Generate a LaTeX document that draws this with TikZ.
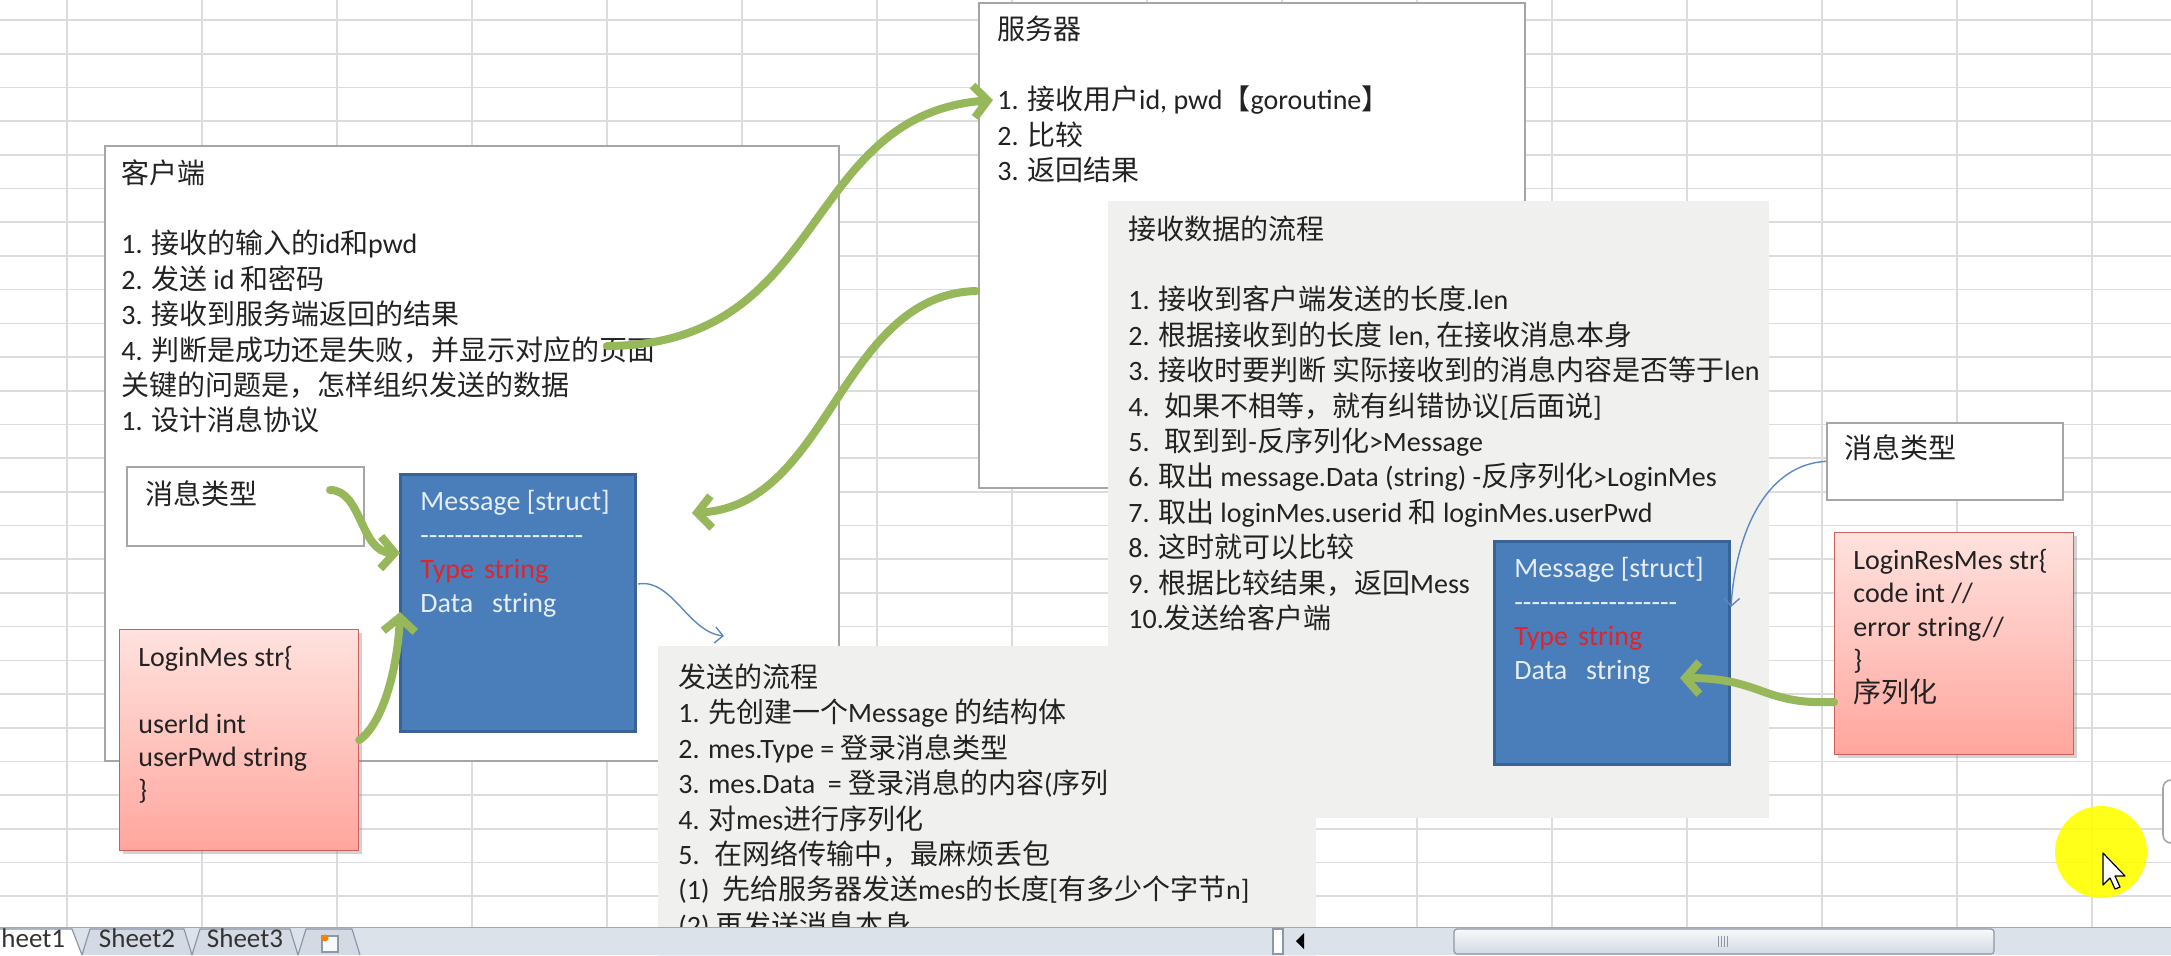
\documentclass[tikz,border=0pt]{standalone}
\usepackage{fontspec}
\setmainfont{Carlito}
\newfontfamily\cjkfont{Noto Sans CJK SC}
\usetikzlibrary{arrows.meta,positioning,shadows}

% CJK runs switch to the CJK font on their own
\XeTeXinterchartokenstate=1
\newXeTeXintercharclass\cjkclass
\newcount\cjkcode
\newcommand\cjkrange[2]{%
  \cjkcode=#1
  \loop\XeTeXcharclass\cjkcode=\cjkclass
    \ifnum\cjkcode<#2 \advance\cjkcode by 1 \repeat}
\cjkrange{"3000}{"303F}
\cjkrange{"4E00}{"9FFF}
\cjkrange{"FF00}{"FFEF}
\XeTeXinterchartoks 0 \cjkclass = {\cjkfont}
\XeTeXinterchartoks 4095 \cjkclass = {\cjkfont}
\XeTeXinterchartoks \cjkclass 0 = {\rmfamily}
\XeTeXinterchartoks \cjkclass 4095 = {\rmfamily}

\definecolor{gridgray}{HTML}{DADCDE}
\definecolor{boxline}{HTML}{A6A6A6}
\definecolor{panelgray}{HTML}{F0F0EE}
\definecolor{structblue}{HTML}{4A7EBB}
\definecolor{structedge}{HTML}{3A6395}
\definecolor{structink}{HTML}{E6EDF7}
\definecolor{fieldred}{HTML}{E0242C}
\definecolor{pinktop}{HTML}{FFE2DE}
\definecolor{pinkbot}{HTML}{FFA69E}
\definecolor{pinkedge}{HTML}{CF5F5A}
\definecolor{arrowgreen}{HTML}{96B85A}
\definecolor{linkblue}{HTML}{5B87C2}
\definecolor{textdark}{HTML}{222222}
\definecolor{barfill}{HTML}{DCE2EA}
\definecolor{baredge}{HTML}{9EA9B6}
\definecolor{tabfill}{HTML}{D3DAE3}
\definecolor{tabedge}{HTML}{8C98A8}
\definecolor{tabink}{HTML}{333333}
\definecolor{thumbtop}{HTML}{F7F9FB}
\definecolor{thumbbot}{HTML}{D2D9E2}
\definecolor{glowyellow}{HTML}{FFFF00}

\newcommand\boxstrut{\rule{0pt}{15pt}}
\newcommand\dashrow{\foreach\dashi in {1,...,19}{-}}

\tikzset{
	cellbox/.style={rectangle, anchor=north west, draw=boxline, line width=0.8pt, fill=white, inner sep=0pt},
	panelbox/.style={rectangle, anchor=north west, fill=panelgray, inner sep=0pt},
	structbox/.style={rectangle, anchor=north west, draw=structedge, line width=1.5pt, fill=structblue, inner sep=0pt},
	notebox/.style={rectangle, anchor=north west, draw=pinkedge, line width=0.6pt, top color=pinktop, bottom color=pinkbot,
		inner sep=0pt, drop shadow={shadow xshift=1.5pt, shadow yshift=-1.5pt, opacity=0.35}},
	boxtext/.style={anchor=north west, inner sep=0pt, align=left, text=textdark, font=\fontsize{14pt}{17.7pt}\selectfont},
	structtext/.style={boxtext, text=structink, font=\fontsize{14pt}{17pt}\selectfont},
	notetext/.style={boxtext, font=\fontsize{14pt}{16.65pt}\selectfont},
	greenarr/.style={draw=arrowgreen, line width=4pt, line cap=round, -{Straight Barb[length=7pt, width=16pt]}},
	linkarr/.style={draw=linkblue, line width=0.7pt, -{Straight Barb[length=4pt, width=8pt]}},
	gridline/.style={draw=gridgray, line width=0.8pt},
	tabshape/.style={draw=tabedge, line width=0.6pt, fill=tabfill},
	tablabel/.style={font=\fontsize{13.5pt}{14pt}\selectfont, text=tabink, inner sep=0pt, anchor=base}
}

\begin{document}
\begin{tikzpicture}[x=0.5pt, y=-0.5pt]
	\useasboundingbox (0,0) rectangle (2171,955);
	\clip (0,0) rectangle (2171,955);
	\fill[white] (0,0) rectangle (2171,955);
	% sheet grid
	\foreach \gx in {0,...,15} \draw[gridline] ({67+135*\gx},0) -- ({67+135*\gx},927);
	\foreach \gy in {0,...,26} \draw[gridline] (0,{20+33.7*\gy}) -- (2171,{20+33.7*\gy});

	% client
	\node[cellbox, minimum width=367pt, minimum height=307.5pt] (client) at (104,145) {};
	\node[boxtext] (clienttxt) at (121,152.6) {\boxstrut 客户端\\ ~\\
		1. 接收的输入的id和pwd\\ 2. 发送 id 和密码\\ 3. 接收到服务端返回的结果\\
		4. 判断是成功还是失败，并显示对应的页面\\ 关键的问题是，怎样组织发送的数据\\ 1. 设计消息协议};
	\node[cellbox, minimum width=118.5pt, minimum height=39.5pt] (typeL) at (126,466) {};
	\node[boxtext] (typeLtxt) at (145,473.6) {\boxstrut 消息类型};
	\node[structbox, minimum width=117.5pt, minimum height=128.5pt] (msgL) at (399,473) {};
	\node[structtext] (msgLtxt) at (420,480) {\boxstrut Message [struct]\\ \dashrow\\
		\textcolor{fieldred}{Type\hspace{5pt}string}\\ Data\hspace{9.5pt}string};
	\node[notebox, minimum width=119.5pt, minimum height=110.5pt] (loginL) at (119,629) {};
	\node[notetext] (loginLtxt) at (138,636) {\boxstrut LoginMes str\{\\ ~\\ userId int\\ userPwd string\\ \}};

	% server
	\node[cellbox, minimum width=273pt, minimum height=242.5pt] (server) at (978,2) {};
	\node[boxtext] (servertxt) at (997,8.6) {\boxstrut 服务器\\ ~\\
		1. 接收用户id, pwd【goroutine】\\ 2. 比较\\ 3. 返回结果};

	% send and receive flows
	\node[panelbox, minimum width=329pt, minimum height=172pt] (sendflow) at (658,646) {};
	\node[boxtext] (sendtxt) at (678,657) {\boxstrut 发送的流程\\
		1. 先创建一个Message 的结构体\\ 2. mes.Type = 登录消息类型\\
		3. mes.Data~ = 登录消息的内容(序列化)\\ 4. 对mes进行序列化\\
		5.~ 在网络传输中，最麻烦丢包\\ (1)~ 先给服务器发送mes的长度[有多少个字节n]\\ (2) 再发送消息本身};
	\node[panelbox, minimum width=330.5pt, minimum height=308.5pt] (recvflow) at (1108,201) {};
	\node[boxtext] (recvtxt) at (1128,208.6) {\boxstrut 接收数据的流程\\ ~\\
		1. 接收到客户端发送的长度.len\\ 2. 根据接收到的长度 len, 在接收消息本身\\
		3. 接收时要判断 实际接收到的消息内容是否等于len\\ 4.~ 如果不相等，就有纠错协议[后面说]\\
		5.~ 取到到-反序列化>Message\\ 6. 取出 message.Data (string) -反序列化>LoginMes\\
		7. 取出 loginMes.userid 和 loginMes.userPwd\\ 8. 这时就可以比较\\
		9. 根据比较结果，返回Mess\\ 10.发送给客户端};
	\node[structbox, minimum width=117.5pt, minimum height=111.5pt] (msgR) at (1493,540) {};
	\node[structtext] (msgRtxt) at (1514,547) {\boxstrut Message [struct]\\ \dashrow\\
		\textcolor{fieldred}{Type\hspace{5pt}string}\\ Data\hspace{9.5pt}string};
	\node[cellbox, minimum width=118pt, minimum height=38.5pt] (typeR) at (1826,422) {};
	\node[boxtext] (typeRtxt) at (1844,427.6) {\boxstrut 消息类型};
	\node[notebox, minimum width=119.5pt, minimum height=111pt] (loginR) at (1834,532) {};
	\node[notetext] (loginRtxt) at (1853,539) {\boxstrut LoginResMes str\{\\ code int //\\ error string//\\ \}\\ 序列化};

	% connector ends
	\coordinate (cliOut) at (607,346);
	\coordinate (srvIn) at (993,100);
	\coordinate (srvOut) at (976,291);
	\coordinate (msgLin) at (692,513);
	\coordinate (typeLout) at (330,490);
	\coordinate (typeLin) at (400,553);
	\coordinate (loginLin) at (400,612);
	\coordinate (msgLout) at (638,584);
	\coordinate (sendIn) at (724,636);
	\coordinate (msgRin) at (1731,607);
	\coordinate (resOut) at (1834,702);
	\coordinate (resIn) at (1680,678);

	\draw[greenarr] (cliOut) .. controls (830,345) and (800,115) .. (srvIn);
	\draw[greenarr] (srvOut) .. controls (840,295) and (830,505) .. (msgLin);
	\draw[greenarr] (typeLout) .. controls (362,490) and (360,552) .. (typeLin);
	\draw[greenarr] (loginL.east) .. controls (385,722) and (398,662) .. (loginLin);
	\draw[greenarr] (resOut) .. controls (1762,705) and (1762,678) .. (resIn);
	\draw[linkarr] (msgLout) .. controls (672,578) and (688,632) .. (sendIn);
	\draw[linkarr] (typeR.west) .. controls (1762,465) and (1735,540) .. (msgRin);

	% sheet tabs and scroll bar
	\fill[barfill] (0,927) rectangle (2171,955);
	\draw[baredge, line width=0.8pt] (0,927.5) -- (2171,927.5);
	\draw[tabshape, fill=white] (-30,955) -- (-22,929) -- (72,929) -- (82,955);
	\draw[tabshape] (82,955) -- (90,929) -- (184,929) -- (192,955);
	\draw[tabshape] (192,955) -- (200,929) -- (290,929) -- (298,955);
	\draw[tabshape] (298,955) -- (306,929) -- (352,929) -- (360,955);
	\node[tablabel, anchor=base west] (tab1) at (1,947) {heet1};
	\node[tablabel] (tab2) at (137,947) {Sheet2};
	\node[tablabel] (tab3) at (245,947) {Sheet3};
	\draw[tabedge, fill=thumbtop, line width=0.6pt] (322,936) rectangle (338,952);
	\fill[orange] (325,938) circle[radius=3.5];
	\draw[tabedge, fill=white, line width=0.6pt] (1273,929) rectangle (1283,954);
	\fill[black] (1296,941) -- (1304,933) -- (1304,949) -- cycle;
	\draw[tabedge, top color=thumbtop, bottom color=thumbbot, rounded corners=1.5pt, line width=0.6pt]
		(1454,929) rectangle (1994,954);
	\foreach \gk in {1718,1721,1724,1727} \draw[tabedge, line width=0.5pt] (\gk,936) -- (\gk,947);

	% screen recorder marks
	\draw[boxline, fill=white, rounded corners=4pt, line width=0.8pt] (2163,780) rectangle (2200,843);
	\fill[glowyellow, opacity=0.9] (2101,852) circle[radius=46];
	\draw[black, fill=white, line width=0.6pt, line join=round]
		(2103,853) -- (2103,885) -- (2110,878) -- (2115,889) -- (2120,887) -- (2115,876) -- (2125,876) -- cycle;
\end{tikzpicture}
\end{document}
